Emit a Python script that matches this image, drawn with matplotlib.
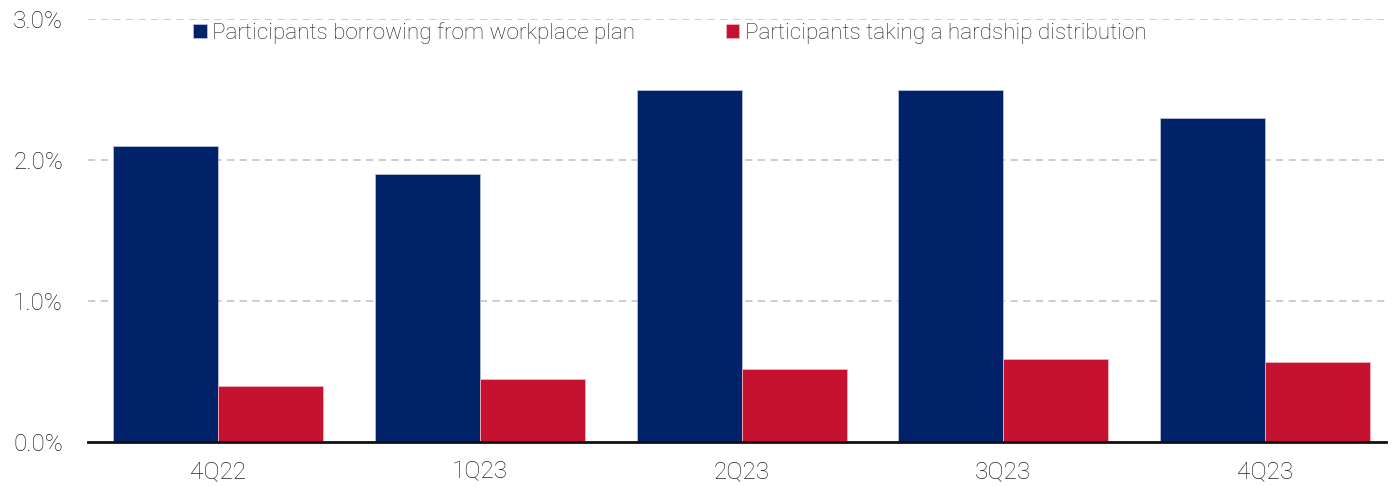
import numpy as np
import matplotlib
matplotlib.use('Agg')
import matplotlib.pyplot as plt
from matplotlib.ticker import FuncFormatter

quarters = ['4Q22', '1Q23', '2Q23', '3Q23', '4Q23']
borrowing = [2.1, 1.9, 2.5, 2.5, 2.3]
hardship = [0.40, 0.45, 0.52, 0.59, 0.57]

BLUE = '#012169'
RED = '#C41230'
TEXT = '#222222'

plt.rcParams['font.family'] = ['Roboto', 'DejaVu Sans']
plt.rcParams['font.weight'] = 'light'

fig = plt.figure(figsize=(13.92, 4.87), dpi=100)
ax = fig.add_axes([88 / 1392, 1 - 442 / 487, (1386 - 88) / 1392, (442 - 19) / 487])

x = np.arange(len(quarters))
w = 0.401
ax.bar(x - w / 2, borrowing, w, color=BLUE, edgecolor='#b8c0d8', linewidth=0.6,
       label='Participants borrowing from workplace plan', zorder=3)
ax.bar(x + w / 2, hardship, w, color=RED, edgecolor='#f0b0bc', linewidth=0.6,
       label='Participants taking a hardship distribution', zorder=3)

ax.set_xlim(-0.497, 4.462)
ax.set_ylim(0, 3.0)
ax.set_yticks([0, 1, 2, 3])
ax.yaxis.set_major_formatter(FuncFormatter(lambda v, p: f'{v:.1f}%'))
ax.set_xticks(x)
ax.set_xticklabels(quarters)
ax.tick_params(axis='both', length=0, labelsize=17.5, colors=TEXT)
ax.tick_params(axis='y', pad=18)
ax.tick_params(axis='x', pad=13)

ax.grid(axis='y', linestyle=(0, (4, 3)), color='#c8c8c8', linewidth=1.3, zorder=0)
for s in ['left', 'right', 'top']:
    ax.spines[s].set_visible(False)
ax.spines['bottom'].set_color('#111111')
ax.spines['bottom'].set_linewidth(2)
ax.spines['bottom'].set_zorder(4)

ax.legend(loc='center left', bbox_to_anchor=(0.074, 0.967), ncol=2, frameon=False,
          fontsize=16.2, handlelength=0.6, handleheight=0.6, handletextpad=0.26,
          columnspacing=4.0, labelcolor=TEXT, borderaxespad=0)

fig.savefig('out.png', dpi=100, facecolor='white')
